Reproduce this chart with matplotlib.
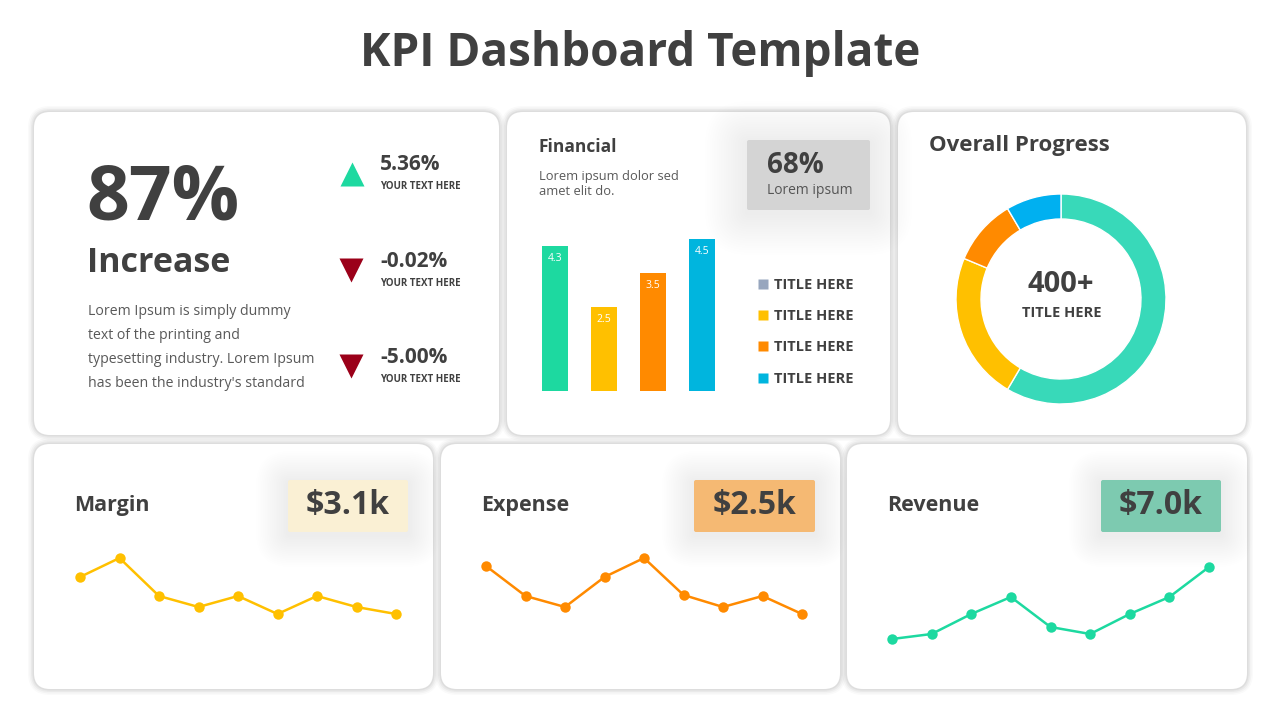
import matplotlib
matplotlib.use('Agg')
import matplotlib.pyplot as plt
from matplotlib.patches import FancyBboxPatch

W, H = 1280, 720
DARK = '#404040'

# financial bar chart
bar_values = [4.3, 2.5, 3.5, 4.5]
bar_colors = ['#1DD9A0', '#FFC000', '#FF8A00', '#00B5DE']
legend_labels = ['TITLE HERE', 'TITLE HERE', 'TITLE HERE', 'TITLE HERE']
legend_colors = ['#97A6BE', '#FFC000', '#FF8A00', '#00B5DE']

# overall progress donut
progress_shares = [58.5, 22.8, 10.2, 8.5]
progress_colors = ['#38D9B9', '#FFC000', '#FF8A00', '#00B0F0']

# sparklines
margin_vals = [7.3, 9.2, 5.4, 4.3, 5.4, 3.6, 5.4, 4.3, 3.6]
expense_vals = [8.4, 5.4, 4.3, 7.3, 9.2, 5.5, 4.3, 5.4, 3.6]
revenue_vals = [1.1, 1.6, 3.6, 5.3, 2.3, 1.6, 3.6, 5.3, 8.3]

# kpi changes
kpi_changes = ['5.36%', '-0.02%', '-5.00%']
kpi_up = [True, False, False]

plt.rcParams['font.family'] = ['Open Sans', 'DejaVu Sans']

fig = plt.figure(figsize=(12.8, 7.2), dpi=100)
fig.patch.set_facecolor('white')
bg = fig.add_axes([0, 0, 1, 1])
bg.set_xlim(0, W)
bg.set_ylim(H, 0)
bg.set_axis_off()


def px_axes(x0, y0, x1, y1):
    ax = fig.add_axes([x0 / W, 1 - y1 / H, (x1 - x0) / W, (y1 - y0) / H])
    ax.set_axis_off()
    return ax


def txt(x, y, s, size, bold=False, color=DARK, ha='left'):
    bg.text(x, y, s, ha=ha, va='baseline', fontsize=size,
            fontweight='bold' if bold else 'normal', color=color)


def card(x0, y0, x1, y1, r=16):
    for pad, a in [(6, 0.04), (4.5, 0.06), (3, 0.09), (1.5, 0.12)]:
        bg.add_patch(FancyBboxPatch((x0 - pad, y0 - pad), x1 - x0 + 2 * pad, y1 - y0 + 2 * pad,
                                    boxstyle=f'round,pad=0,rounding_size={r + pad}',
                                    fc='#8c8c8c', ec='none', alpha=a))
    bg.add_patch(FancyBboxPatch((x0, y0), x1 - x0, y1 - y0,
                                boxstyle=f'round,pad=0,rounding_size={r}',
                                fc='white', ec='none'))


def glow_box(x0, y0, x1, y1, color, spread=30):
    n = 18
    for i in range(n, 0, -1):
        p = spread * i / n
        bg.add_patch(FancyBboxPatch((x0 - p, y0 - p + 3), x1 - x0 + 2 * p, y1 - y0 + 2 * p,
                                    boxstyle=f'round,pad=0,rounding_size={p + 2}',
                                    fc='#000000', ec='none', alpha=0.005))
    bg.add_patch(FancyBboxPatch((x0, y0), x1 - x0, y1 - y0,
                                boxstyle='round,pad=0,rounding_size=2',
                                fc=color, ec='none'))


# title
txt(640, 66, 'KPI Dashboard Template', 33, bold=True, ha='center')

# cards
card(34, 112, 499, 435)
card(507, 112, 890, 435)
card(898, 112, 1246, 435)
card(34, 444, 433, 689)
card(441, 444, 840, 689)
card(847, 444, 1247, 689)

# --- card 1: increase
txt(86, 219, '87%', 54, bold=True)
txt(87, 272, 'Increase', 24.5, bold=True)
body = ['Lorem Ipsum is simply dummy', 'text of the printing and',
        'typesetting industry. Lorem Ipsum', "has been the industry's standard"]
for i, line in enumerate(body):
    txt(88, 315 + 24 * i, line, 10.2, color='#595959')

val_base = [170, 267, 363]
for yb, val, up in zip(val_base, kpi_changes, kpi_up):
    if up:
        bg.plot(351.5, yb + 4, marker='^', ms=17, color='#1DD9A0', mec='none')
    else:
        bg.plot(350.5, yb + 3, marker='v', ms=17, color='#9B0019', mec='none')
    txt(380, yb, val, 15, bold=True)
    txt(380, yb + 19, 'YOUR TEXT HERE', 7, bold=True)

# --- card 2: financial
txt(539, 152, 'Financial', 12.5, bold=True)
txt(539, 180, 'Lorem ipsum dolor sed', 9.3, color='#595959')
txt(539, 195, 'amet elit do.', 9.3, color='#595959')
glow_box(747, 140, 870, 210, '#D4D4D4', spread=42)
txt(767, 173, '68%', 20, bold=True)
txt(767, 194, 'Lorem ipsum', 10, color='#555555')

bax = px_axes(530.5, 222, 726.5, 391)
xs = range(len(bar_values))
bax.bar(xs, bar_values, width=0.53, color=bar_colors)
for x, v in zip(xs, bar_values):
    bax.text(x, v - 0.38, f'{v}', ha='center', va='center', fontsize=7.5, color='white')
bax.set_xlim(-0.5, 3.5)
bax.set_ylim(0, 5)

for i, (lab, col) in enumerate(zip(legend_labels, legend_colors)):
    yb = 289 + 31.2 * i
    bg.plot(763, yb - 5, marker='s', ms=6.5, color=col, mec='none')
    txt(774, yb, lab, 10.5, bold=True)

# --- card 3: overall progress
txt(929, 151, 'Overall Progress', 16, bold=True)
pax = px_axes(1061 - 105, 299 - 105, 1061 + 105, 299 + 105)
pax.pie(progress_shares, colors=progress_colors, startangle=90, counterclock=False, radius=1,
        wedgeprops=dict(width=25 / 105, edgecolor='white', linewidth=1))
pax.set_xlim(-1, 1)
pax.set_ylim(-1, 1)
txt(1061, 292, '400+', 21, bold=True, ha='center')
txt(1062, 317, 'TITLE HERE', 10.5, bold=True, ha='center')

# --- bottom cards
bottom = [
    ('Margin', '$3.1k', '#FAF0D4', margin_vals, '#FFC000', 74, (288, 408), (80, 396)),
    ('Expense', '$2.5k', '#F5B973', expense_vals, '#FF8A00', 481, (694, 815), (486, 802)),
    ('Revenue', '$7.0k', '#7DCAB0', revenue_vals, '#1DD9A0', 887, (1101, 1221), (892, 1209)),
]
for name, value, box_col, vals, line_col, tx, (bx0, bx1), (lx0, lx1) in bottom:
    txt(tx, 511, name, 15.5, bold=True)
    glow_box(bx0, 480, bx1, 532, box_col, spread=32)
    txt((bx0 + bx1) / 2, 514, value, 23, bold=True, ha='center')
    lax = px_axes(lx0, 550, lx1, 650)
    lax.plot(range(len(vals)), vals, color=line_col, lw=1.8, marker='o', ms=7.5, mec='none',
             clip_on=False)
    lax.set_xlim(0, len(vals) - 1)
    lax.set_ylim(0, 10)

fig.savefig('out.png', dpi=100, facecolor='white')
